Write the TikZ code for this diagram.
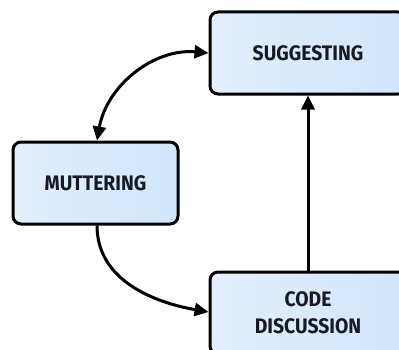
\documentclass[tikz,border=0pt]{standalone}
\usepackage{fontspec}
\setmainfont{Fira Sans}[FakeStretch=0.92]
\usetikzlibrary{arrows.meta}
\definecolor{boxL}{RGB}{226,239,253}
\definecolor{boxR}{RGB}{208,229,251}
\definecolor{inkc}{RGB}{25,25,35}
\tikzset{
  state/.style={draw=black, line width=3pt, rounded corners=8pt,
    left color=boxL, right color=boxR, text=inkc,
    minimum height=82pt, align=center, font=\fontsize{21}{27}\selectfont\bfseries, inner sep=0pt},
  conn/.style={line width=3pt, draw=black},
  tip/.style={-{Triangle[length=14pt,width=13pt]}},
}
\begin{document}
\begin{tikzpicture}[x=1pt,y=1pt]
\useasboundingbox (0,0) rectangle (399,349);
\node[state, minimum width=196pt] (sug) at (308,296) {SUGGESTING};
\node[state, minimum width=165pt] (mut) at (95.5,166) {MUTTERING};
\node[state, minimum width=196pt] (code) at (308,36) {CODE\\DISCUSSION};
\draw[conn, {Triangle[length=14pt,width=13pt]}-{Triangle[length=14pt,width=13pt]}] ([xshift=1.5pt]mut.north) to[out=80,in=175] (sug.west);
\draw[conn, tip] ([xshift=1.5pt]mut.south) to[out=-90,in=170] ([yshift=1pt]code.west);
\draw[conn, tip] (code.north) -- (sug.south);
\end{tikzpicture}
\end{document}
